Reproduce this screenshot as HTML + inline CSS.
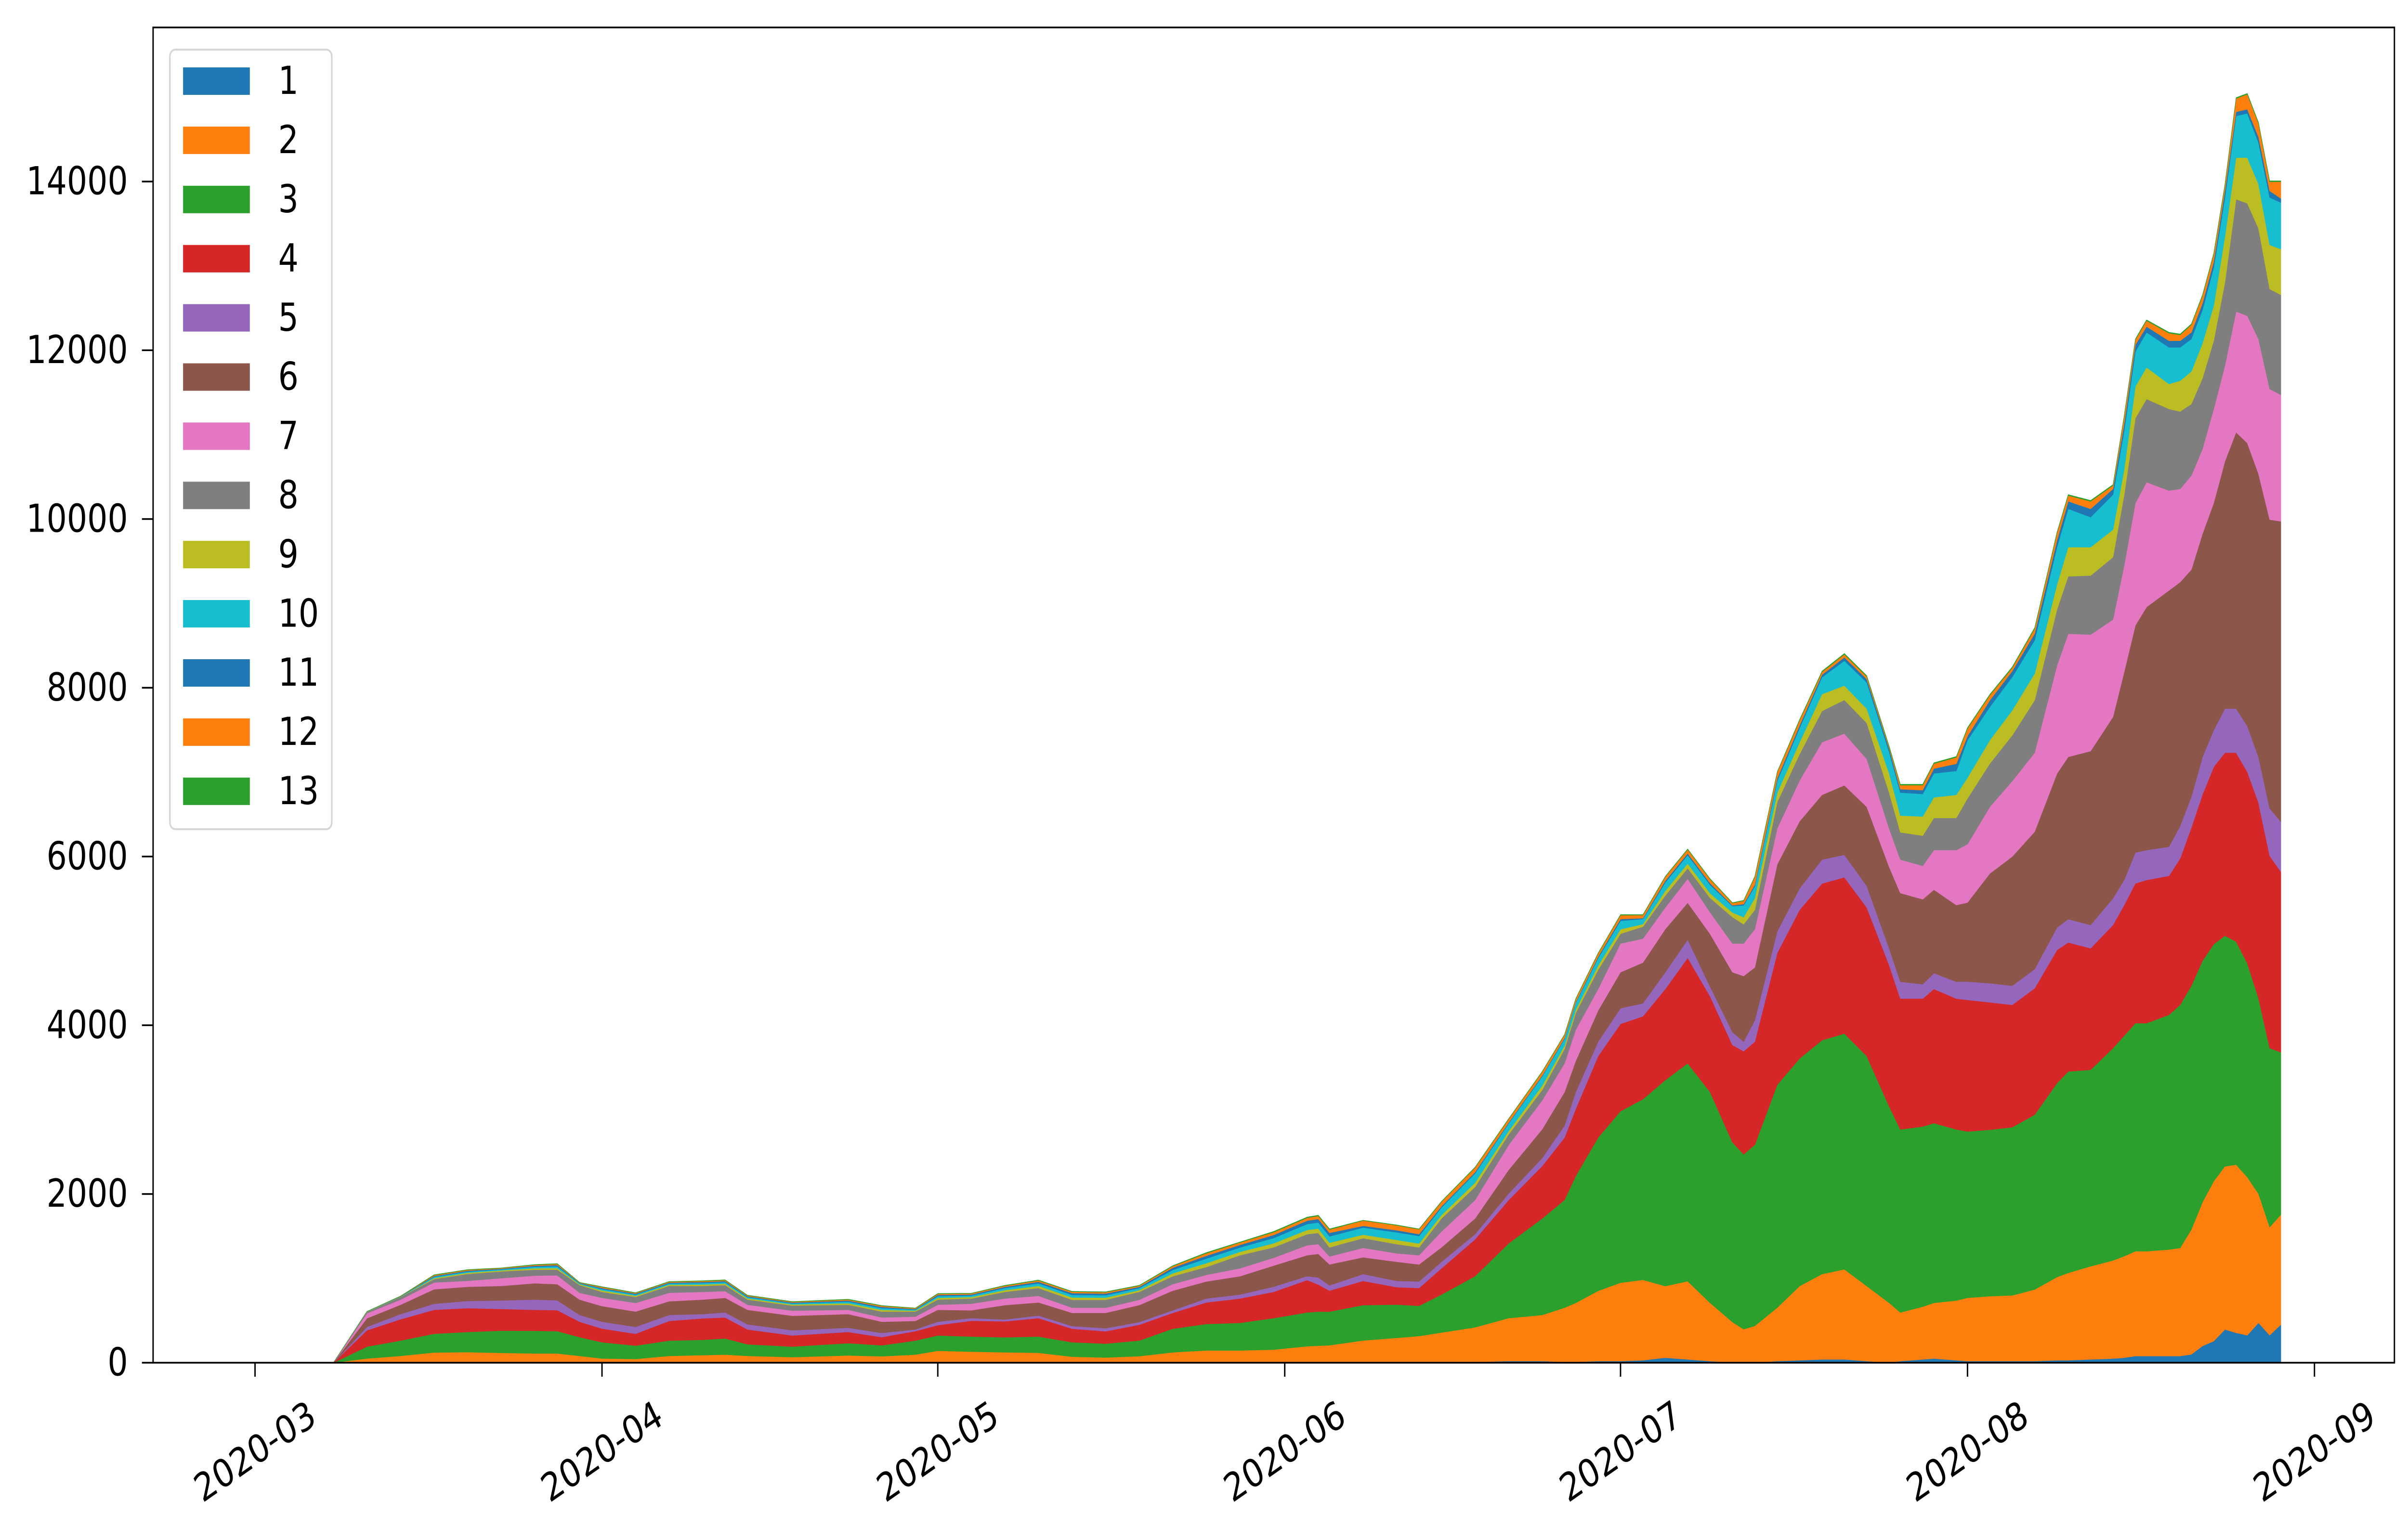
<!DOCTYPE html>
<html>
<head>
<meta charset="utf-8">
<style>
  html, body { margin: 0; padding: 0; background: #ffffff; width: 100%; height: 100%; overflow: hidden; }
  svg { display: block; width: 100%; height: 100%; font-family: "DejaVu Sans", "Liberation Sans", sans-serif; }
</style>
</head>
<body>
<svg id="chart" xmlns="http://www.w3.org/2000/svg" width="100%" height="100%" viewBox="0 0 6024 3194" preserveAspectRatio="none">
  <rect x="0" y="0" width="6024" height="3194" fill="#ffffff"/>
  <g id="areas"></g>
  <g id="yaxis"></g>
  <g id="xaxis"></g>
  <rect x="383" y="57" width="5607" height="2773" fill="none" stroke="#000" stroke-width="3.5"/>
  <g id="legend"></g>
</svg>
<script>
// Day offsets from 2020-03-01
const dayIndex = [7,10,13,16,19,22,25,27,29,31, 34,37,40,42,44,48,53,56,59,61, 64,67,70,73,76,79,82,85,88,91, 94,95,96,99,102,104,106,109,112,115, 117,118,120,122,124,126,128,130,132,133, 134,136,138,140,142,144,146,147,149,150, 152,153,155,157,159,161,162,164,166,167, 168,169,171,172,173,174,175,176,177,178, 179,180,181];

const s1 = [0,0,0,0,0,0,0,0,0,0, 0,0,0,0,0,0,0,0,0,0, 0,0,0,0,0,0,0,0,0,0, 0,0,0,0,0,0,0,10,20,20, 10,10,20,20,30,60,40,20,0,0, 0,20,30,40,40,20,0,20,40,50, 30,20,20,20,20,30,30,40,50,60, 80,80,80,80,100,200,256,395,355,326, 474,326,454];
const s2 = [0,51,81,122,126,117,111,111,81,51, 45,81,91,97,81,67,87,77,97,142, 131,124,118,72,62,78,124,146,146,156, 196,202,208,264,295,317,358,410,509,546, 643,700,832,929,953,849,926,690,483,398, 437,633,879,1011,1068,889,710,576,625,660, 708,750,769,779,848,986,1035,1104,1163,1203, 1242,1242,1262,1281,1478,1704,1895,1933,1993,1874, 1529,1282,1302];
const s3 = [0,141,182,222,239,264,268,264,223,192, 158,182,182,191,138,125,146,130,166,182, 180,178,193,171,165,186,280,314,327,373, 401,404,398,420,395,358,451,606,886,1144, 1278,1505,1818,2033,2141,2442,2584,2499,2130,2073, 2147,2641,2698,2772,2794,2726,2329,2170,2135,2130, 2028,1972,1973,1993,2072,2299,2388,2329,2516,2614, 2703,2703,2782,2881,2891,2861,2811,2733,2644,2535, 2318,2121,1924];
const s4 = [0,193,253,284,283,257,249,249,182,162, 141,233,254,249,176,132,132,97,112,122, 187,189,218,161,146,187,187,255,289,311, 383,321,249,286,206,211,311,436,513,622, 739,795,965,1034,983,1079,1250,1136,1153,1221, 1222,1563,1761,1857,1852,1761,1675,1551,1517,1590, 1551,1559,1510,1450,1499,1578,1529,1440,1460,1549, 1657,1697,1647,1736,1874,1972,2101,2170,2239,2269, 2318,2279,2140];
const s5 = [0,40,61,71,85,101,121,116,81,81, 81,71,50,60,61,61,50,50,20,40, 31,22,31,31,37,31,31,47,47,62, 46,84,62,81,74,78,77,62,78,94, 142,199,171,187,153,199,215,114,153,114, 255,255,255,284,267,256,199,199,170,188, 199,217,226,227,227,266,276,276,316,296, 365,355,345,385,365,444,434,523,523,543, 542,562,592];
const s6 = [0,102,111,172,168,172,193,192,182,186, 182,162,172,173,172,172,162,132,101,142, 93,171,155,156,181,202,233,202,217,249, 249,280,249,199,227,202,171,186,280,342, 397,369,369,426,483,511,438,625,710,778, 625,795,795,767,823,937,965,1051,1006,989, 909,937,1302,1531,1628,1825,1923,2061,2150,2466, 2693,2880,3038,2890,2693,2645,2693,2930,3275,3354, 3355,3423,3561];
const s7 = [0,60,61,81,71,91,91,105,81,98, 102,101,91,80,60,61,51,51,51,60, 78,78,78,62,62,62,78,78,94,93, 118,115,94,112,100,109,187,218,295,342, 341,370,255,341,284,256,284,255,341,386, 454,426,483,625,614,568,455,397,397,470, 652,691,790,895,937,1282,1460,1381,1154,1263, 1450,1480,1184,1105,1114,1006,1115,1135,1431,1509, 1598,1549,1500];
const s8 = [0,15,31,40,81,81,71,67,91,70, 71,81,71,71,61,60,60,70,60,61, 62,78,93,93,93,94,93,93,155,124, 131,133,108,115,109,93,155,156,125,124, 170,198,228,114,142,142,125,171,312,227, 228,313,313,369,398,426,426,323,358,381, 381,543,513,543,621,663,681,700,740,838, 1006,986,967,917,849,838,809,986,1331,1332, 1312,1184,1184];
const s9 = [0,3,3,12,14,12,16,18,10,18, 15,14,17,17,14,13,18,20,11,20, 17,21,26,28,26,21,35,45,40,48, 50,52,55,41,50,45,40,50,40,50, 40,40,50,55,30,55,55,55,55,85, 140,110,140,200,170,170,227,199,227,244, 273,246,277,296,316,296,346,336,326,296, 375,375,296,365,385,415,414,542,493,542, 523,523,543];
const s10 = [0,2,3,15,14,12,18,22,9,16, 14,15,18,18,15,14,19,21,12,21, 19,24,29,31,29,24,40,55,52,62, 70,72,75,84,90,90,90,110,90,110, 80,80,90,100,60,100,100,100,75,140, 140,140,170,200,295,310,255,272,267,284, 284,444,394,395,395,444,454,355,414,464, 415,415,434,395,385,395,454,464,494,524, 493,562,551];
const s11 = [0,1,2,10,10,8,12,14,6,12, 10,10,12,12,10,9,13,14,8,14, 12,15,19,20,19,15,25,33,30,37, 40,41,42,21,25,22,15,15,10,10, 10,10,15,20,10,20,20,20,10,15, 20,30,30,30,40,40,40,40,45,57, 85,49,79,69,79,79,89,99,69,79, 79,69,79,79,79,79,69,79,49,49, 69,79,49];
const s12 = [0,0,2,10,10,7,10,12,5,11, 8,9,10,10,9,8,11,12,8,12, 11,13,16,17,16,13,20,30,28,32, 34,36,38,63,58,57,52,53,42,44, 37,37,38,46,37,46,46,46,26,38, 90,70,60,32,35,30,20,48,59,58, 75,89,59,39,59,87,68,89,40,89, 59,69,89,69,89,89,89,69,158,177, 159,108,198];
const s13 = [0,0,0,4,3,2,4,5,1,4, 3,3,4,4,3,3,4,4,2,4, 3,4,4,4,4,4,5,8,6,8, 8,8,8,3,4,4,5,5,4,4, 4,4,5,6,5,6,6,6,5,6, 7,7,9,9,10,10,9,10,10,10, 10,10,10,10,10,10,10,10,10,10, 10,10,10,10,10,10,10,10,10,10, 10,10,10];

const seriesNames = ["1","2","3","4","5","6","7","8","9","10","11","12","13"];
const yTicks = [0,2000,4000,6000,8000,10000,12000,14000];
const xTickLabels = ["2020-03","2020-04","2020-05","2020-06","2020-07","2020-08","2020-09"];
const xTickDays = [0,31,61,92,122,153,184];

const series = [s1,s2,s3,s4,s5,s6,s7,s8,s9,s10,s11,s12,s13];
const colors = ["#1f77b4","#ff7f0e","#2ca02c","#d62728","#9467bd","#8c564b","#e377c2","#7f7f7f","#bcbd22","#17becf","#1f77b4","#ff7f0e","#2ca02c"];

const NS = "http://www.w3.org/2000/svg";
const X0 = 638, PX_PER_DAY = 28;
const Y0 = 2830, PX_PER_UNIT = (2830 - 377) / 14000;
function xScale(d) { return X0 + d * PX_PER_DAY; }
function yScale(v) { return Y0 - v * PX_PER_UNIT; }

const areas = document.getElementById("areas");
let base = dayIndex.map(() => 0);
series.forEach((s, k) => {
  const top = base.map((b, i) => b + s[i]);
  let d = "M" + xScale(dayIndex[0]) + "," + yScale(top[0]);
  for (let i = 1; i < dayIndex.length; i++) d += " L" + xScale(dayIndex[i]) + "," + yScale(top[i]).toFixed(1);
  for (let i = dayIndex.length - 1; i >= 0; i--) d += " L" + xScale(dayIndex[i]) + "," + yScale(base[i]).toFixed(1);
  d += " Z";
  const p = document.createElementNS(NS, "path");
  p.setAttribute("d", d);
  p.setAttribute("fill", colors[k]);
  p.setAttribute("stroke", colors[k]);
  p.setAttribute("stroke-width", "1");
  
  
  areas.appendChild(p);
  base = top;
});

const yaxis = document.getElementById("yaxis");
yTicks.forEach(v => {
  const y = yScale(v);
  const t = document.createElementNS(NS, "line");
  t.setAttribute("x1", 355); t.setAttribute("x2", 383);
  t.setAttribute("y1", y); t.setAttribute("y2", y);
  t.setAttribute("stroke", "#000"); t.setAttribute("stroke-width", "3.5");
  
  
  yaxis.appendChild(t);
  const l = document.createElementNS(NS, "text");
  l.setAttribute("x", 320); l.setAttribute("y", y);
  l.setAttribute("text-anchor", "end");
  l.setAttribute("dominant-baseline", "central");
  l.setAttribute("font-size", "80");
  l.textContent = String(v);
  
  
  yaxis.appendChild(l);
});

const xaxis = document.getElementById("xaxis");
xTickDays.forEach((d, i) => {
  const x = xScale(d);
  const t = document.createElementNS(NS, "line");
  t.setAttribute("x1", x); t.setAttribute("x2", x);
  t.setAttribute("y1", 2830); t.setAttribute("y2", 2859);
  t.setAttribute("stroke", "#000"); t.setAttribute("stroke-width", "3.5");
  
  
  xaxis.appendChild(t);
  const l = document.createElementNS(NS, "text");
  const cy = 3015;
  l.setAttribute("x", x); l.setAttribute("y", cy);
  l.setAttribute("text-anchor", "middle");
  l.setAttribute("dominant-baseline", "central");
  l.setAttribute("font-size", "80");
  l.setAttribute("transform", "rotate(-30 " + x + " " + cy + ")");
  l.textContent = xTickLabels[i];
  
  
  xaxis.appendChild(l);
});

const legend = document.getElementById("legend");
const box = document.createElementNS(NS, "rect");
box.setAttribute("x", 425); box.setAttribute("y", 103);
box.setAttribute("width", 405); box.setAttribute("height", 1619);
box.setAttribute("rx", 14);
box.setAttribute("fill", "#ffffff"); box.setAttribute("fill-opacity", "0.8");
box.setAttribute("stroke", "#d6d6d6"); box.setAttribute("stroke-width", "4");


legend.appendChild(box);
seriesNames.forEach((name, k) => {
  const y = 140 + k * 122.9;
  const r = document.createElementNS(NS, "rect");
  r.setAttribute("x", 458); r.setAttribute("y", y);
  r.setAttribute("width", 167); r.setAttribute("height", 57);
  r.setAttribute("fill", colors[k]);
  
  
  legend.appendChild(r);
  const t = document.createElementNS(NS, "text");
  t.setAttribute("x", 696); t.setAttribute("y", y + 28.5);
  t.setAttribute("dominant-baseline", "central");
  t.setAttribute("font-size", "80");
  t.textContent = name;
  
  
  legend.appendChild(t);
});
</script>
</body>
</html>
